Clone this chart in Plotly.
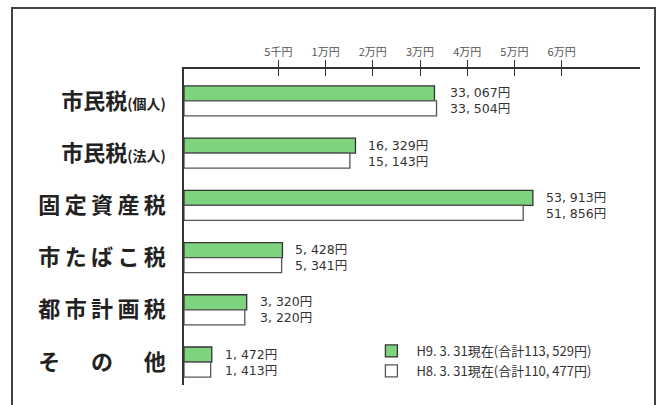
import plotly.graph_objects as go

# ---- data ----
categories = ["市民税(個人)", "市民税(法人)", "固定資産税", "市たばこ税", "都市計画税", "その他"]
category_display = [
    "市民税<span style='font-size:14px'>(個人)</span>",
    "市民税<span style='font-size:14px'>(法人)</span>",
    "固\u2009定\u2009資\u2009産\u2009税",
    "市\u2009た\u2009ば\u2009こ\u2009税",
    "都\u2009市\u2009計\u2009画\u2009税",
    "そ\u2009\u3000\u2009の\u2009\u3000\u2009他",
]
h9_values = [33067, 16329, 53913, 5428, 3320, 1472]
h8_values = [33504, 15143, 51856, 5341, 3220, 1413]
series_names = ["H9. 3. 31現在(合計113, 529円)", "H8. 3. 31現在(合計110, 477円)"]
tick_values = [5000, 10000, 20000, 30000, 40000, 50000, 60000]
tick_labels = ["5千円", "1万円", "2万円", "3万円", "4万円", "5万円", "6万円"]


# broken (piecewise-linear) scale used by the original chart:
# 0-5千 takes two units, 5千-1万 one unit, then one unit per 1万
def warp(v):
    if v <= 5000:
        return v / 2500
    if v <= 10000:
        return 2 + (v - 5000) / 5000
    return 3 + (v - 10000) / 10000


def fmt(v):
    return f"{v:,}".replace(",", ", ") + "円"


FONT = "Noto Sans CJK JP"
NUMFONT = "DejaVu Sans, Noto Sans CJK JP"
GREEN = "#7ed37f"
EDGE = "#333333"

fig = go.Figure()
fig.add_trace(go.Bar(
    y=categories, x=[warp(v) for v in h9_values], orientation="h",
    name=series_names[0], customdata=h9_values,
    hovertemplate="%{y}: %{customdata:,}円<extra></extra>",
    marker=dict(color=GREEN, line=dict(color=EDGE, width=1.3)),
))
fig.add_trace(go.Bar(
    y=categories, x=[warp(v) for v in h8_values], orientation="h",
    name=series_names[1], customdata=h8_values,
    hovertemplate="%{y}: %{customdata:,}円<extra></extra>",
    marker=dict(color="white", line=dict(color="#555555", width=1.3)),
))
# helper trace so the overlaying axis (inner half of the crossing ticks) is drawn
fig.add_trace(go.Scatter(
    x=[warp(v) for v in tick_values], y=[categories[0]] * len(tick_values),
    mode="none", xaxis="x2", showlegend=False, hoverinfo="skip",
))

annotations = []
for cat, a, b in zip(categories, h9_values, h8_values):
    xpos = max(warp(a), warp(b))
    annotations.append(dict(
        x=xpos, y=cat, xref="x", yref="y", text=fmt(a) + "<br>" + fmt(b),
        showarrow=False, align="left", xanchor="left", yanchor="middle",
        xshift=12, borderpad=0,
        font=dict(family=NUMFONT, size=12.5, color="#333333"),
    ))

xrange = [0, 456 / 47.2]
tickpos = [warp(v) for v in tick_values]

fig.update_layout(
    width=663, height=405,
    margin=dict(l=184, r=23, t=69, b=20, autoexpand=False),
    paper_bgcolor="white", plot_bgcolor="white",
    barmode="group", bargap=0.425, bargroupgap=0,
    font=dict(family=FONT, color="#333333"),
    showlegend=True,
    legend=dict(
        x=0.40, y=0.155, xanchor="left", yanchor="top",
        bgcolor="rgba(0,0,0,0)", font=dict(family=FONT, size=13, color="#333333"),
        traceorder="normal", itemwidth=40, tracegroupgap=2,
    ),
    xaxis=dict(
        side="top", range=xrange, tickvals=tickpos, ticktext=tick_labels,
        ticks="outside", ticklen=7, tickwidth=1.4, tickcolor=EDGE,
        showline=True, linecolor=EDGE, linewidth=1.5, automargin=False,
        showgrid=False, zeroline=False,
        tickfont=dict(family=FONT, size=11, color="#555555"),
    ),
    xaxis2=dict(
        overlaying="x", side="top", matches="x", range=xrange, tickvals=tickpos,
        ticks="inside", ticklen=7, tickwidth=1.4, tickcolor=EDGE, automargin=False,
        showticklabels=False, showline=False, showgrid=False, zeroline=False,
    ),
    yaxis=dict(
        type="category", categoryorder="array", categoryarray=categories,
        range=[5.44, -0.61], tickvals=categories, ticktext=category_display,
        showline=True, linecolor=EDGE, linewidth=1.5, ticks="", automargin=False,
        showgrid=False, zeroline=False, ticklabelstandoff=12,
        tickfont=dict(family=FONT, size=22, color="#222222", weight="bold"),
    ),
    annotations=annotations,
    shapes=[dict(
        type="rect", xref="paper", yref="paper",
        x0=(12 - 184) / 456, x1=(655 - 184) / 456,
        y0=(385 - 412) / 316, y1=(385 - 8) / 316,
        line=dict(color="#444444", width=2), fillcolor="rgba(0,0,0,0)", layer="below",
    )],
)

fig.write_html(
    "out.html",
    config={"displayModeBar": False},
    post_script="document.body.style.margin='0';document.body.style.overflow='hidden';",
)
